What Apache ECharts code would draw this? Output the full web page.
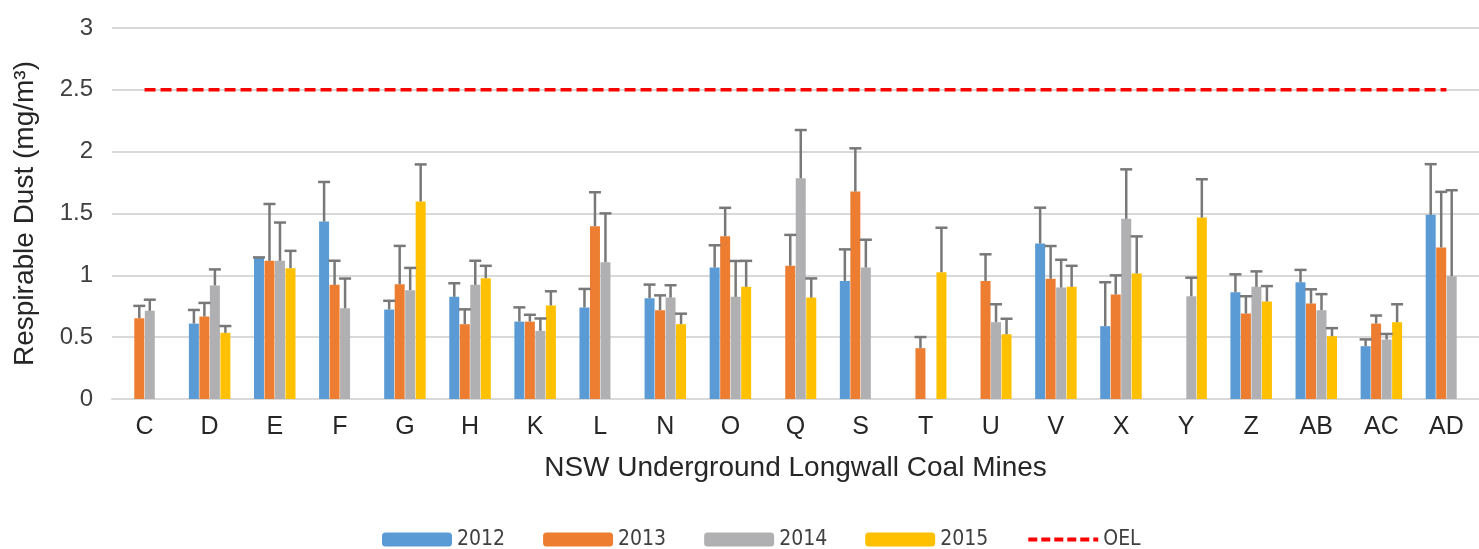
<!DOCTYPE html>
<html>
<head>
<meta charset="utf-8">
<script src="https://cdn.jsdelivr.net/npm/echarts@6/dist/echarts.min.js"></script>
<style>
  html, body { margin: 0; padding: 0; background: #fff; }
  #chart { width: 1479px; height: 549px; }
</style>
</head>
<body>
<div id="chart"></div>
<script>
// Mine codes along the category axis
const mines = ['C','D','E','F','G','H','K','L','N','O','Q','S','T','U','V','X','Y','Z','AB','AC','AD'];

// Mean respirable dust per mine and year (mg/m³); null = no sampling that year
const dust2012 = [null,0.61,1.14,1.435,0.724,0.826,0.626,0.74,0.815,1.063,null,0.955,null,null,1.257,0.589,null,0.863,0.944,0.427,1.489];
const dust2013 = [0.653,0.667,1.117,0.923,0.928,0.605,0.626,1.397,0.718,1.316,1.077,1.677,0.411,0.955,0.972,0.845,null,0.691,0.772,0.61,1.225];
const dust2014 = [0.713,0.918,1.117,0.734,0.88,0.923,0.551,1.106,0.82,0.826,1.785,1.063,null,0.621,0.901,1.457,0.831,0.907,0.718,0.481,0.993];
const dust2015 = [null,0.535,1.058,null,1.597,0.977,0.756,null,0.605,0.907,0.82,null,1.025,0.524,0.907,1.015,1.467,0.788,0.508,0.621,null];

// Upper error (standard deviation) for each mean above
const err2012 = [null,0.11,0.005,0.32,0.07,0.11,0.115,0.15,0.11,0.18,null,0.255,null,null,0.29,0.355,null,0.145,0.10,0.055,0.41];
const err2013 = [0.10,0.11,0.46,0.195,0.31,0.12,0.055,0.275,0.12,0.23,0.25,0.35,0.09,0.215,0.265,0.155,null,0.14,0.115,0.065,0.45];
const err2014 = [0.09,0.13,0.31,0.24,0.18,0.195,0.10,0.395,0.10,0.29,0.39,0.225,null,0.145,0.225,0.40,0.15,0.125,0.13,0.045,0.695];
const err2015 = [null,0.055,0.14,null,0.30,0.10,0.115,null,0.085,0.21,0.155,null,0.36,0.125,0.17,0.30,0.31,0.125,0.065,0.145,null];

// Occupational exposure limit
const oelLimit = 2.5;
const oelLine = mines.map(() => oelLimit);

const yearNames = ['2012','2013','2014','2015'];
const yearMeans = [dust2012, dust2013, dust2014, dust2015];
const yearErrs = [err2012, err2013, err2014, err2015];
const yearColors = ['#5B9BD5','#ED7D31','#B0B0B2','#FFC000'];

const BAR_W = 10;
const BAR_GAP = 0.05;
const STEP = BAR_W * (1 + BAR_GAP);

const fontMain = '"Liberation Sans", Arial, sans-serif';
const fontLegend = '"DejaVu Sans Condensed", "Liberation Sans", sans-serif';

const chart = echarts.init(document.getElementById('chart'));

const barSeries = yearNames.map((name, i) => ({
  name: name,
  type: 'bar',
  data: yearMeans[i],
  barWidth: BAR_W,
  barGap: (BAR_GAP * 100) + '%',
  itemStyle: { color: yearColors[i] },
  z: 2
}));

// Upper-only error whiskers, positioned over each year's bar slot
const errSeries = yearNames.map((name, i) => ({
  name: name + ' error',
  type: 'custom',
  z: 5,
  silent: true,
  data: mines.map((m, k) => [k, yearMeans[i][k], yearErrs[i][k]]).filter(d => d[1] != null),
  renderItem: function (params, api) {
    const k = api.value(0);
    const v = api.value(1);
    const e = api.value(2);
    const base = api.coord([k, v]);
    const top = api.coord([k, v + e]);
    const x = base[0] + (i - 1.5) * STEP;
    const capHalf = 6;
    const style = { stroke: '#787878', lineWidth: 2.5 };
    return {
      type: 'group',
      children: [
        { type: 'line', shape: { x1: x, y1: base[1], x2: x, y2: top[1] }, style: style },
        { type: 'line', shape: { x1: x - capHalf, y1: top[1], x2: x + capHalf, y2: top[1] }, style: style }
      ]
    };
  }
}));

const option = {
  backgroundColor: '#ffffff',
  animation: false,
  grid: { left: 112, right: -6, top: 28, bottom: 150 },
  legend: {
    data: [
      '2012', '2013', '2014', '2015',
      { name: 'OEL', itemStyle: { opacity: 0 }, lineStyle: { width: 4, type: [9, 4] } }
    ],
    top: 524,
    left: 377,
    itemWidth: 70,
    itemHeight: 14,
    itemGap: 38,
    textStyle: { fontFamily: fontLegend, fontSize: 21, color: '#404040' }
  },
  xAxis: {
    type: 'category',
    data: mines,
    name: 'NSW Underground Longwall Coal Mines',
    nameLocation: 'middle',
    nameGap: 55,
    nameTextStyle: { fontFamily: fontMain, fontSize: 28, color: '#262626' },
    axisLine: { lineStyle: { color: '#D9D9D9', width: 2 } },
    axisTick: { show: false },
    axisLabel: { fontFamily: fontMain, fontSize: 25, color: '#262626', margin: 16 }
  },
  yAxis: {
    type: 'value',
    min: 0,
    max: 3,
    interval: 0.5,
    name: 'Respirable Dust (mg/m³)',
    nameLocation: 'middle',
    nameGap: 73,
    nameTextStyle: { fontFamily: fontMain, fontSize: 28, color: '#262626' },
    axisLine: { show: false },
    axisTick: { show: false },
    axisLabel: { fontFamily: fontMain, fontSize: 24, color: '#404040', margin: 19 },
    splitLine: { lineStyle: { color: '#D9D9D9', width: 2 } }
  },
  series: barSeries.concat(errSeries, [{
    name: 'OEL',
    type: 'line',
    data: oelLine,
    symbol: 'none',
    z: 6,
    itemStyle: { color: '#FF0000' },
    lineStyle: { color: '#FF0000', width: 3.5, type: [11, 5] }
  }])
};

chart.setOption(option);
</script>
</body>
</html>
